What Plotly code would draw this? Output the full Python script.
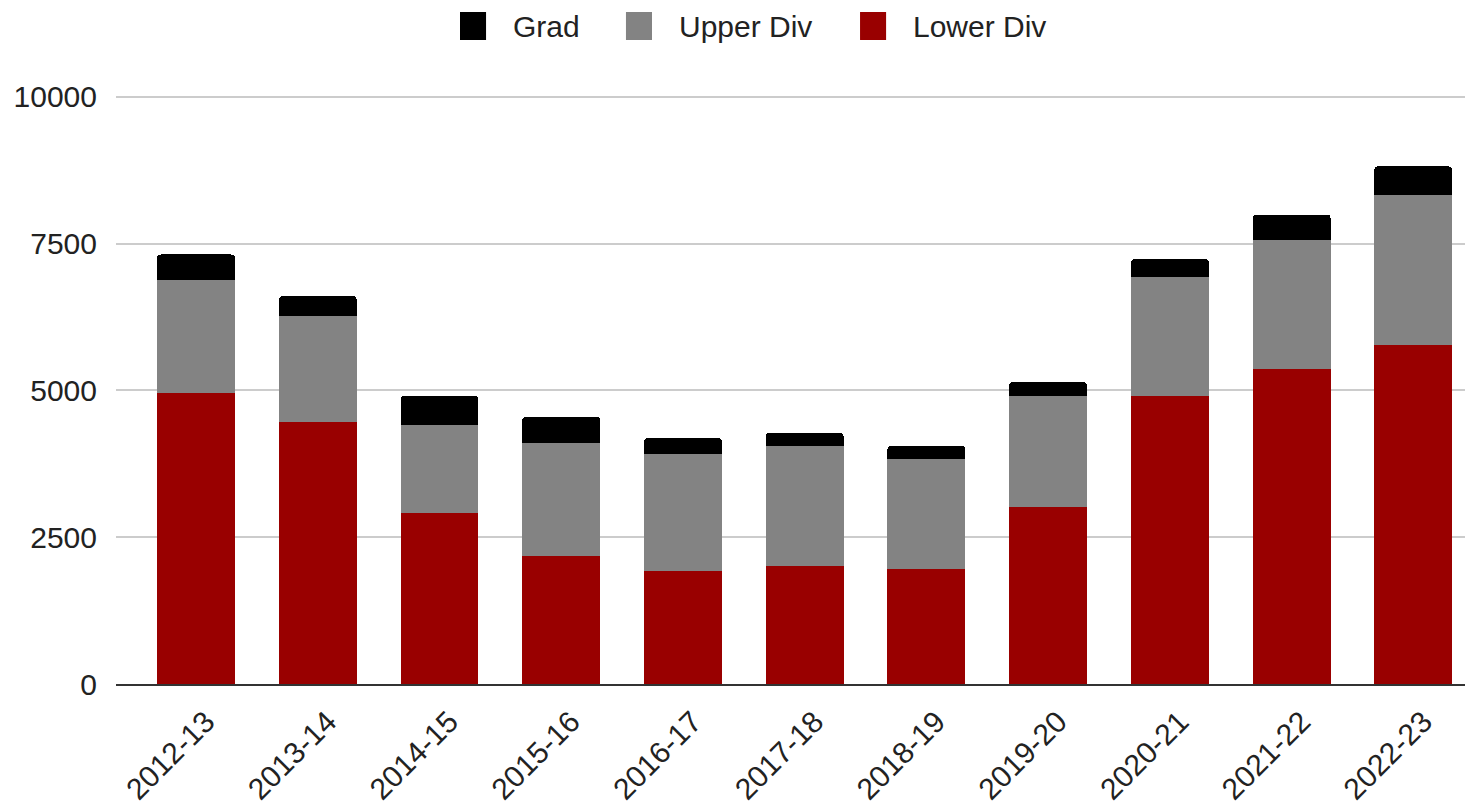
import plotly.graph_objects as go

# academic years on the x axis
years = ['2012-13', '2013-14', '2014-15', '2015-16', '2016-17', '2017-18',
         '2018-19', '2019-20', '2020-21', '2021-22', '2022-23']

# enrollment by level (stacked)
lower_div = [4960, 4465, 2905, 2175, 1920, 2005, 1955, 3020, 4905, 5365, 5775]
upper_div = [1915, 1800, 1510, 1935, 2000, 2055, 1880, 1885, 2025, 2190, 2545]
grad = [440, 340, 490, 440, 270, 220, 220, 240, 305, 440, 495]

y_ticks = [0, 2500, 5000, 7500, 10000]

series = [('Lower Div', lower_div, '#990000'),
          ('Upper Div', upper_div, '#838383'),
          ('Grad', grad, '#000000')]

fig = go.Figure()

# Lower first so it sits at the bottom of the stack
for name, vals, col in series:
    fig.add_trace(go.Bar(x=years, y=vals, name=name, marker_color=col,
                         marker_line_width=0, showlegend=False))

# legend drawn by hand (big rounded squares like the original)
legend_items = [('Grad', '#000000', 0.2535), ('Upper Div', '#838383', 0.3758),
                ('Lower Div', '#990000', 0.5483)]
for name, col, x0 in legend_items:
    fig.add_shape(type='rect', xref='paper', yref='paper', x0=x0, x1=x0 + 0.0192,
                  y0=1.0934, y1=1.1409, fillcolor=col, line_width=0)
    fig.add_annotation(xref='paper', yref='paper', x=x0 + 0.0375, y=1.1171,
                       xanchor='left', yanchor='middle', text=name, showarrow=False,
                       font=dict(size=30, color='#222222'))

# page has an 8px body margin, so the margins are offset to compensate
fig.update_layout(
    width=1473, height=804,
    barmode='stack',
    bargap=0.36,
    barcornerradius=4,
    paper_bgcolor='white', plot_bgcolor='white',
    font=dict(family='Liberation Sans, Arial, sans-serif', size=30, color='#222222'),
    margin=dict(l=108, r=8, t=87, b=128, autoexpand=False),
)

fig.update_xaxes(tickangle=-45, showgrid=False, showline=True, linecolor='#333333',
                 linewidth=2, ticks='', range=[-0.657, 10.49],
                 ticklabelshift=10, ticklabelstandoff=6,
                 tickfont=dict(size=30, color='#222222'))
fig.update_yaxes(range=[0, 10030], tickvals=y_ticks, ticktext=[str(v) for v in y_ticks],
                 showgrid=True, gridcolor='#cccccc', gridwidth=2, zeroline=False,
                 ticks='', ticklabelstandoff=18,
                 tickfont=dict(size=30, color='#222222'))

fig.write_html('out.html')
